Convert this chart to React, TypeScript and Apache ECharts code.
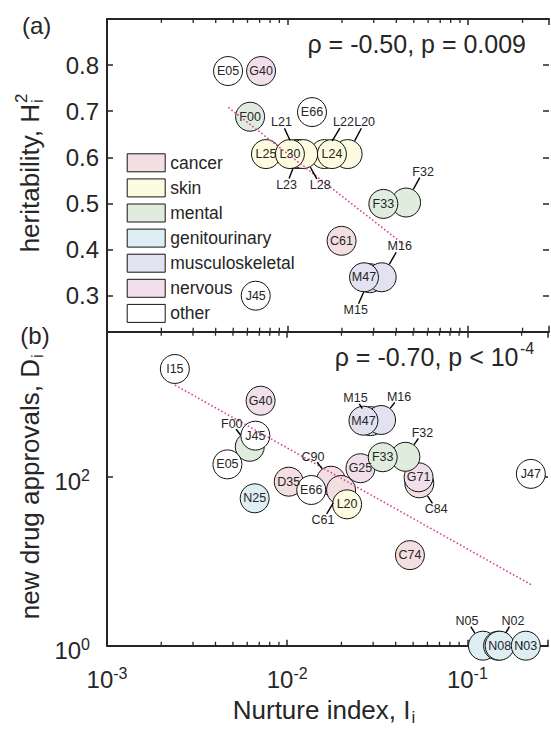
import React, { useEffect, useRef } from 'react';
import * as echarts from 'echarts';

// ---------------- data ----------------
const CATEGORIES = ['cancer', 'skin', 'mental', 'genitourinary', 'musculoskeletal', 'nervous', 'other'];

// panel (a): heritability vs nurture index
const A_CODES = ['C61', 'L20', 'L22', 'L21', 'L23', 'L28', 'L25', 'L30', 'L24', 'F32', 'F33', 'F00', 'M15', 'M16', 'M47', 'G40', 'E05', 'E66', 'J45'];
const A_GROUPS = ['cancer', 'skin', 'skin', 'skin', 'skin', 'skin', 'skin', 'skin', 'skin', 'mental', 'mental', 'mental', 'musculoskeletal', 'musculoskeletal', 'musculoskeletal', 'nervous', 'other', 'other', 'other'];
const A_NURTURE = [0.0199, 0.0215, 0.016, 0.0112, 0.0115, 0.0122, 0.00759, 0.0103, 0.0176, 0.0453, 0.0339, 0.0062, 0.0285, 0.0332, 0.0265, 0.00713, 0.00468, 0.01365, 0.00666];
const A_HERITABILITY = [0.419, 0.607, 0.607, 0.607, 0.607, 0.607, 0.607, 0.607, 0.607, 0.502, 0.499, 0.688, 0.338, 0.34, 0.34, 0.787, 0.787, 0.698, 0.3];
const A_FIT_X = [0.0047, 0.0447];
const A_FIT_Y = [0.708, 0.409];
const A_STATS = 'ρ = -0.50, p = 0.009';

// panel (b): new drug approvals vs nurture index
const B_CODES = ['C74', 'D35', 'C90', 'C61', 'C84', 'L20', 'G40', 'G25', 'G71', 'F00', 'F32', 'F33', 'N25', 'N05', 'N02', 'N08', 'N03', 'M15', 'M16', 'M47', 'I15', 'J45', 'E05', 'E66', 'J47'];
const B_GROUPS = ['cancer', 'cancer', 'cancer', 'cancer', 'cancer', 'skin', 'nervous', 'nervous', 'nervous', 'mental', 'mental', 'mental', 'genitourinary', 'genitourinary', 'genitourinary', 'genitourinary', 'genitourinary', 'musculoskeletal', 'musculoskeletal', 'musculoskeletal', 'other', 'other', 'other', 'other', 'other'];
const B_NURTURE = [0.048, 0.0102, 0.0175, 0.0199, 0.0541, 0.0215, 0.00712, 0.0255, 0.0536, 0.0062, 0.0453, 0.0339, 0.0066, 0.122, 0.148, 0.151, 0.211, 0.029, 0.0332, 0.0265, 0.00238, 0.00666, 0.00466, 0.0136, 0.225];
const B_DRUGS = [11.8, 87.3, 89.7, 69.6, 83.5, 47.1, 793, 126, 98.4, 226, 172, 170, 55.5, 1, 1, 1, 1, 455, 469, 460, 1882, 306, 140, 69.6, 108];
const B_FIT_X = [0.00238, 0.2285];
const B_FIT_Y = [1217, 5.2];
const B_STATS = 'ρ = -0.70, p < 10';
const B_STATS_EXP = '-4';

const X_MIN = 0.001;
const X_MAX = 0.2802;
const X_MINOR = [0.002, 0.003, 0.004, 0.005, 0.006, 0.007, 0.008, 0.009, 0.02, 0.03, 0.04, 0.05, 0.06, 0.07, 0.08, 0.09, 0.2];
const A_Y_MIN = 0.222;
const A_Y_MAX = 0.9;
const B_Y_MIN = 1;
const B_Y_MAX = 5200;

// ---------------- styles ----------------
const FONT = '"Liberation Sans", Arial, Helvetica, sans-serif';
const INK = '#262626';
const EDGE = '#141414';
const FIT_COLOR = '#d4449c';
const FILL: Record<string, string> = {
  cancer: '#f3dee2',
  skin: '#fdfbe0',
  mental: '#e0edde',
  genitourinary: '#deeff3',
  musculoskeletal: '#e2e2f0',
  nervous: '#f1e0eb',
  other: '#ffffff',
};
const DRAW_ORDER = ['cancer', 'skin', 'nervous', 'mental', 'genitourinary', 'musculoskeletal', 'other'];
const SYMBOL = 29;
// label offsets (px) for circles labelled with a leader line
const LEADER_A: Record<string, [number, number]> = {
  L21: [-15, -32], L23: [-12, 31], L28: [17, 31], L22: [19, -32], L20: [17, -32],
  F32: [17, -31], M16: [18, -31], M15: [-14, 32],
};
const LEADER_B: Record<string, [number, number]> = {
  F00: [-18, -23], C90: [-18, -24], C61: [-18, 30], M15: [-15, -23], M16: [18, -23],
  F32: [17, -24], C84: [17, 26], N05: [-16, -25], N02: [15, -25],
};

const GRID_A = { left: 107, top: 18.9, width: 442, height: 312.8 };
const GRID_B = { left: 107, top: 331.7, width: 442, height: 314 };

function powLabel(v: number) {
  const e = Math.log10(v);
  const r = Math.round(e);
  if (Math.abs(e - r) > 1e-6) return '';
  return `{b|10}{s|${r}}`;
}

const POW_RICH = {
  b: { fontSize: 24, fontFamily: FONT, color: INK, lineHeight: 28 },
  s: { fontSize: 16, fontFamily: FONT, color: INK, verticalAlign: 'top', lineHeight: 16 },
};

function xAxis(gridIndex: number, position: 'top' | 'bottom', labels: boolean) {
  return {
    type: 'log', logBase: 10, gridIndex, position, min: X_MIN, max: X_MAX,
    axisLine: { show: true, onZero: false, lineStyle: { color: INK, width: 2 } },
    axisTick: { show: true, inside: true, length: 6, lineStyle: { color: INK, width: 1.5 } },
    axisLabel: labels
      ? { show: true, margin: 20, formatter: powLabel, rich: POW_RICH }
      : { show: false },
    splitLine: { show: false },
  };
}

function scatterSeries(codes: string[], groups: string[], xs: number[], ys: number[], leaders: Record<string, [number, number]>, axisIndex: number) {
  return DRAW_ORDER.map((cat) => ({
    type: 'scatter',
    name: cat,
    xAxisIndex: axisIndex,
    yAxisIndex: axisIndex,
    symbol: 'circle',
    symbolSize: SYMBOL,
    z: 3,
    itemStyle: { color: FILL[cat], borderColor: EDGE, borderWidth: 1, opacity: 1 },
    label: {
      show: true, position: 'inside', formatter: (p: any) => p.name,
      fontSize: 12.5, fontFamily: FONT, color: INK,
    },
    emphasis: { disabled: true },
    data: codes
      .map((c, i) => ({ c, i }))
      .filter((o) => groups[o.i] === cat)
      .map((o) => ({ name: o.c, value: [xs[o.i], ys[o.i]], label: { show: !(o.c in leaders) } })),
  }));
}

function leaderSeries(codes: string[], xs: number[], ys: number[], leaders: Record<string, [number, number]>, axisIndex: number) {
  const picked = codes.map((c, i) => ({ c, i })).filter((o) => o.c in leaders);
  const names = picked.map((o) => o.c);
  return {
    type: 'custom',
    xAxisIndex: axisIndex,
    yAxisIndex: axisIndex,
    z: 6,
    silent: true,
    data: picked.map((o) => [xs[o.i], ys[o.i]]),
    renderItem: (params: any, api: any) => {
      const code = names[params.dataIndex];
      const c = api.coord([api.value(0), api.value(1)]);
      const [dx, dy] = leaders[code];
      const d = Math.hypot(dx, dy);
      const ux = dx / d;
      const uy = dy / d;
      const r0 = SYMBOL / 2 + 0.5;
      const r1 = d - 7;
      return {
        type: 'group',
        children: [
          {
            type: 'line',
            shape: { x1: c[0] + ux * r0, y1: c[1] + uy * r0, x2: c[0] + ux * r1, y2: c[1] + uy * r1 },
            style: { stroke: '#000', lineWidth: 1.4 },
          },
          {
            type: 'text', x: c[0] + dx, y: c[1] + dy,
            style: { text: code, align: 'center', verticalAlign: 'middle', fontSize: 12.5, fontFamily: FONT, fill: INK },
          },
        ],
      };
    },
  };
}

function minorTickSeries(axisIndex: number, yBase: number) {
  return {
    type: 'custom',
    xAxisIndex: axisIndex,
    yAxisIndex: axisIndex,
    z: 7,
    silent: true,
    data: X_MINOR.map((v) => [v, yBase]),
    renderItem: (params: any, api: any) => {
      const p = api.coord([api.value(0), api.value(1)]);
      const cs = params.coordSys;
      const top = cs.y;
      const bottom = cs.y + cs.height;
      const st = { stroke: INK, lineWidth: 1.3 };
      return {
        type: 'group',
        children: [
          { type: 'line', shape: { x1: p[0], y1: bottom, x2: p[0], y2: bottom - 4 }, style: st },
          { type: 'line', shape: { x1: p[0], y1: top, x2: p[0], y2: top + 4 }, style: st },
        ],
      };
    },
  };
}

function fitSeries(xs: number[], ys: number[], axisIndex: number) {
  return {
    type: 'line',
    xAxisIndex: axisIndex,
    yAxisIndex: axisIndex,
    z: 5,
    symbol: 'none',
    silent: true,
    lineStyle: { color: FIT_COLOR, width: 1.6, type: [1.6, 2.2] },
    data: xs.map((x, i) => [x, ys[i]]),
  };
}

const txt = (text: string, size: number, extra: any = {}) => ({
  text, fontSize: size, fontFamily: FONT, fill: INK, ...extra,
});

export default function App() {
  const ref = useRef<HTMLDivElement>(null);
  useEffect(() => {
    if (!ref.current) return;
    const chart = echarts.init(ref.current, undefined, { renderer: 'svg' });
    const option: any = {
      animation: false,
      backgroundColor: '#ffffff',
      grid: [
        { ...GRID_A, containLabel: false },
        { ...GRID_B, containLabel: false },
      ],
      legend: {
        data: CATEGORIES,
        orient: 'vertical',
        left: 126.7,
        top: 153.3,
        padding: 0,
        icon: 'rect',
        itemWidth: 38,
        itemHeight: 18,
        itemGap: 6.1,
        itemTextGap: 4,
        selectedMode: false,
        itemStyle: { borderColor: EDGE, borderWidth: 1 },
        textStyle: { fontSize: 17.5, fontFamily: FONT, color: INK, lineHeight: 18 },
      },
      xAxis: [
        xAxis(0, 'bottom', false),
        xAxis(0, 'top', false),
        xAxis(1, 'bottom', true),
        xAxis(1, 'top', false),
      ],
      yAxis: [
        {
          type: 'value', gridIndex: 0, position: 'left', min: A_Y_MIN, max: A_Y_MAX,
          axisLine: { show: true, onZero: false, lineStyle: { color: INK, width: 2 } },
          axisTick: { show: true, inside: true, length: 6, lineStyle: { color: INK, width: 1.5 } },
          axisLabel: {
            margin: 8, fontSize: 24, fontFamily: FONT, color: INK,
            formatter: (v: number) => {
              const r = Math.round(v * 10) / 10;
              if (Math.abs(v - r) > 1e-6 || r < 0.3 || r > 0.8) return '';
              return r.toFixed(1);
            },
          },
          splitLine: { show: false },
        },
        {
          type: 'value', gridIndex: 0, position: 'right', min: A_Y_MIN, max: A_Y_MAX,
          axisLine: { show: false },
          axisTick: { show: true, inside: true, length: 6, lineStyle: { color: INK, width: 1.5 } },
          axisLabel: { show: false },
          splitLine: { show: false },
        },
        {
          type: 'log', logBase: 100, gridIndex: 1, position: 'left', min: B_Y_MIN, max: B_Y_MAX,
          axisLine: { show: true, onZero: false, lineStyle: { color: INK, width: 2 } },
          axisTick: { show: true, inside: true, length: 6, lineStyle: { color: INK, width: 1.5 } },
          axisLabel: { margin: 17, padding: [10, 0, 0, 0], formatter: powLabel, rich: POW_RICH },
          splitLine: { show: false },
        },
        {
          type: 'log', logBase: 100, gridIndex: 1, position: 'right', min: B_Y_MIN, max: B_Y_MAX,
          axisLine: { show: false },
          axisTick: { show: true, inside: true, length: 6, lineStyle: { color: INK, width: 1.5 } },
          axisLabel: { show: false },
          splitLine: { show: false },
        },
      ],
      series: [
        ...scatterSeries(A_CODES, A_GROUPS, A_NURTURE, A_HERITABILITY, LEADER_A, 0),
        ...scatterSeries(B_CODES, B_GROUPS, B_NURTURE, B_DRUGS, LEADER_B, 2),
        leaderSeries(A_CODES, A_NURTURE, A_HERITABILITY, LEADER_A, 0),
        leaderSeries(B_CODES, B_NURTURE, B_DRUGS, LEADER_B, 2),
        fitSeries(A_FIT_X, A_FIT_Y, 0),
        fitSeries(B_FIT_X, B_FIT_Y, 2),
        minorTickSeries(0, A_Y_MIN),
        minorTickSeries(2, B_Y_MIN),
      ],
      graphic: [
        { type: 'text', x: 36.7, y: 25, style: txt('(a)', 24, { align: 'center', verticalAlign: 'middle' }) },
        { type: 'text', x: 35, y: 335, style: txt('(b)', 24, { align: 'center', verticalAlign: 'middle' }) },
        {
          type: 'group', x: 30, y: 104, rotation: Math.PI / 2,
          children: [
            { type: 'text', x: 0, y: 0, style: txt('heritability, H', 26, { align: 'right', verticalAlign: 'middle' }) },
            { type: 'text', x: 1, y: -9, style: txt('2', 17, { align: 'left', verticalAlign: 'middle' }) },
            { type: 'text', x: 1, y: 7, style: txt('i', 17, { align: 'left', verticalAlign: 'middle' }) },
          ],
        },
        {
          type: 'group', x: 30, y: 359, rotation: Math.PI / 2,
          children: [
            { type: 'text', x: 0, y: 0, style: txt('new drug approvals, D', 26, { align: 'right', verticalAlign: 'middle' }) },
            { type: 'text', x: 1, y: 7, style: txt('i', 17, { align: 'left', verticalAlign: 'middle' }) },
          ],
        },
        {
          type: 'group', x: 410.5, y: 710,
          children: [
            { type: 'text', x: 0, y: 0, style: txt('Nurture index, I', 26, { align: 'right', verticalAlign: 'middle' }) },
            { type: 'text', x: 1, y: 7, style: txt('i', 17, { align: 'left', verticalAlign: 'middle' }) },
          ],
        },
        { type: 'text', x: 526, y: 44, style: txt(A_STATS, 25, { align: 'right', verticalAlign: 'middle' }) },
        { type: 'text', x: 518.5, y: 356.7, style: txt(B_STATS, 25, { align: 'right', verticalAlign: 'middle' }) },
        { type: 'text', x: 520, y: 348, style: txt(B_STATS_EXP, 16, { align: 'left', verticalAlign: 'middle' }) },
      ],
    };
    chart.setOption(option);
    return () => chart.dispose();
  }, []);
  return (
    <div
      ref={ref}
      style={{ position: 'fixed', left: 0, top: 0, width: 551, height: 729, background: '#fff' }}
    />
  );
}
